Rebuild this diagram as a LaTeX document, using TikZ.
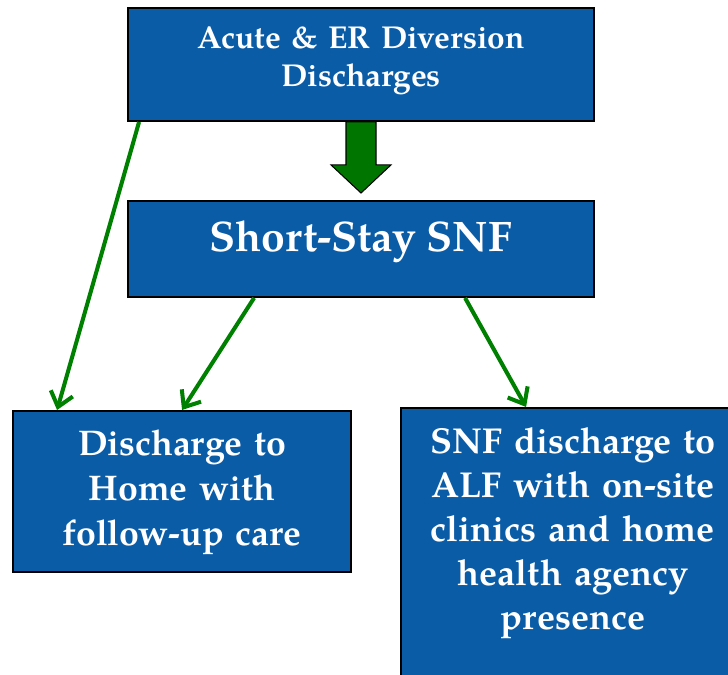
\documentclass[tikz,border=0pt]{standalone}
\usepackage{fontspec}
\setmainfont{TeX Gyre Pagella}
\usetikzlibrary{arrows.meta,calc}

\definecolor{boxblue}{RGB}{11,92,167}
\definecolor{flowgreen}{RGB}{0,128,0}

\begin{document}
\begin{tikzpicture}[x=0.02cm,y=-0.02cm,
  box/.style={draw=black, line width=1.1pt, fill=boxblue, text=white, inner xsep=0.2cm, inner ysep=0.2cm, anchor=north},
  flow/.style={draw=flowgreen, line width=2.3pt, -{Straight Barb[length=8pt,width=13pt]}},
  bigarrow/.style={draw=black, line width=0.6pt, fill=flowgreen!92!black}]
\useasboundingbox (0,0) rectangle (728,674);

% boxes
\node[box, minimum width=9.32cm, text width=8.8cm, align=center, text height=0.62cm, text depth=1.24cm,
  font=\fontsize{18}{21.6}\selectfont\bfseries] (acute) at (361,7) {Acute \& ER Diversion\\Discharges};

\node[box, minimum width=9.32cm, text height=0.82cm, text depth=0.7cm,
  font=\fontsize{24.3}{29}\selectfont\bfseries] (snf) at (361,200) {Short-Stay SNF};

\node[box, minimum width=6.76cm, text width=6.3cm, align=center, text height=0.7cm, text depth=2.12cm,
  font=\fontsize{20.3}{25.5}\selectfont\bfseries] (home) at (182,410) {Discharge to\\Home with\\follow-up care};

\node[box, minimum width=6.88cm, text width=6.4cm, align=center, text height=0.72cm, text depth=4.8cm,
  font=\fontsize{20.5}{25}\selectfont\bfseries] (alf) at (573,407) {SNF discharge to\\ALF with on-site\\clinics and home\\health agency\\presence};

% block arrow between the top two boxes
\draw[bigarrow] ($(acute.south)+(-15,0)$) -- ($(acute.south)+(-15,43)$) -- ($(acute.south)+(-30,43)$)
  -- ($(snf.north)+(0,-7)$) -- ($(acute.south)+(30,43)$) -- ($(acute.south)+(15,43)$)
  -- ($(acute.south)+(15,0)$) -- cycle;

% thin arrows
\draw[flow] ($(acute.south west)+(12,0)$) -- ($(home.north west)+(45,0)$);
\draw[flow] ($(snf.south west)+(127,0)$) -- ($(home.north west)+(170,0)$);
\draw[flow] ($(snf.south west)+(338,0)$) -- ($(alf.north west)+(126,0)$);

\end{tikzpicture}
\end{document}
